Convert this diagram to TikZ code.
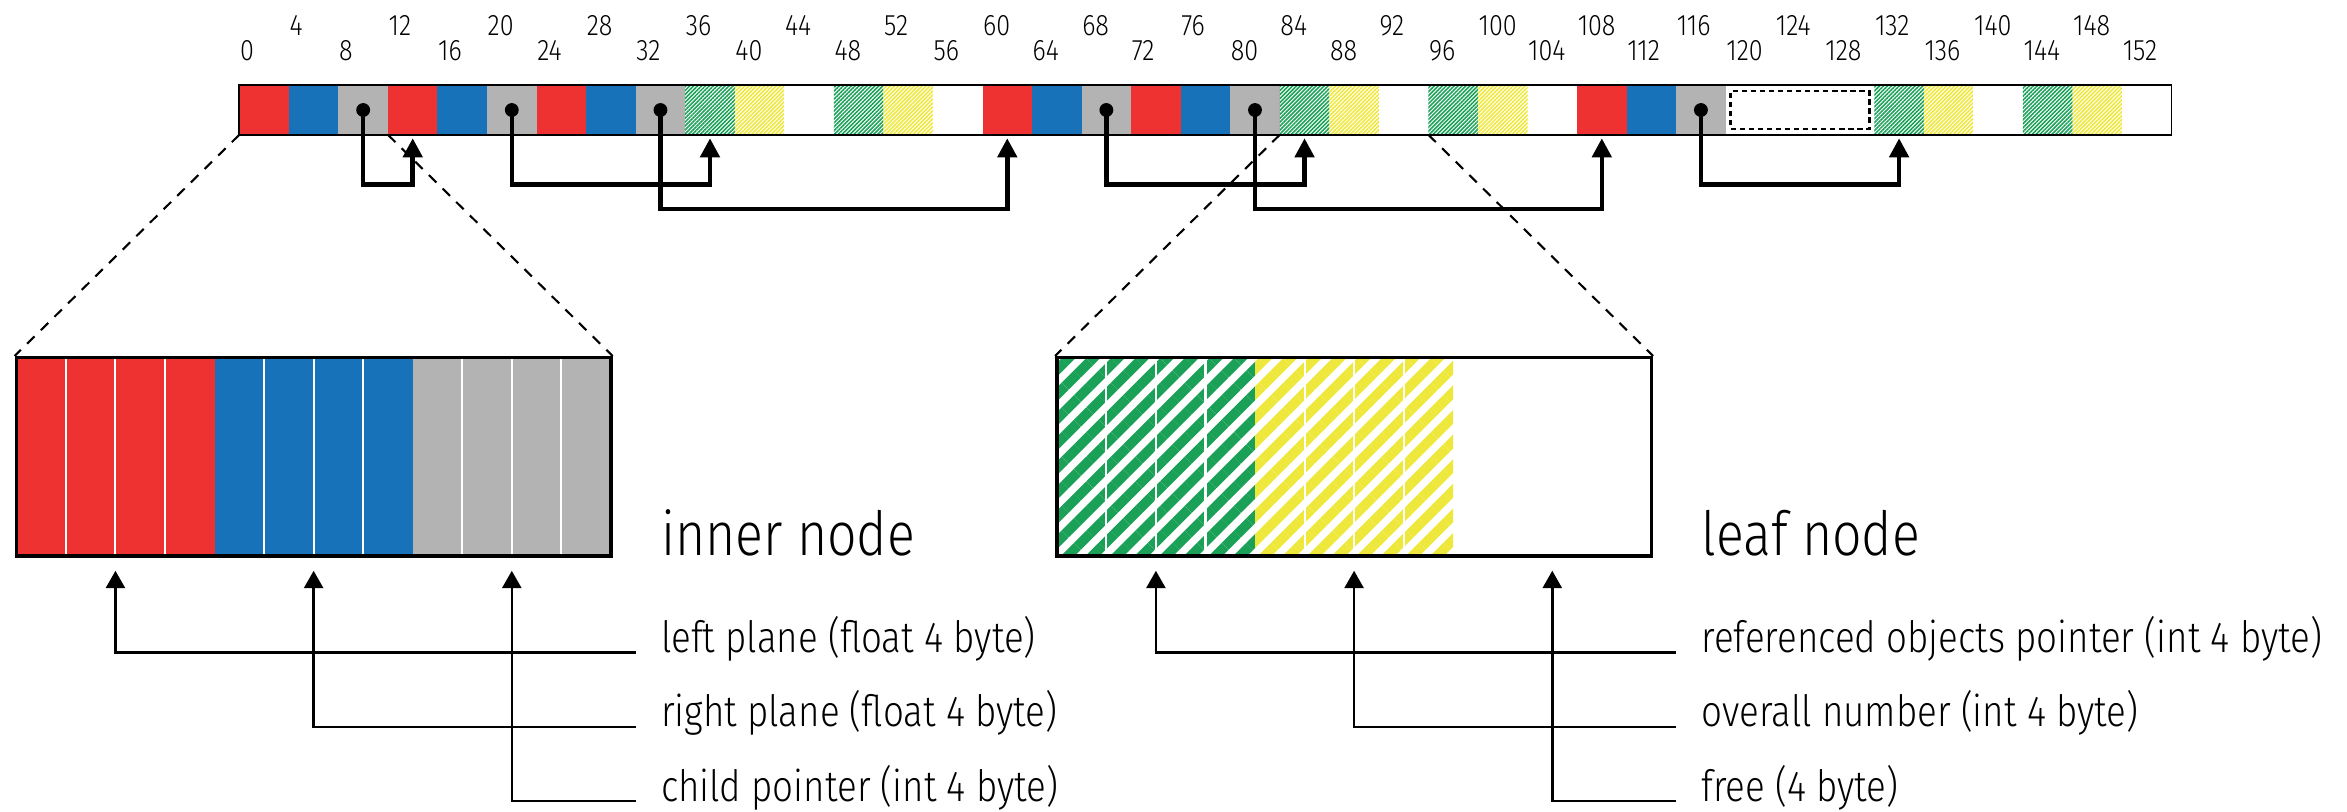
\documentclass[tikz,border=0pt]{standalone}
\usepackage{fontspec}
\setmainfont{Fira Sans Light}[FakeStretch=0.85]
\usepackage{tikz}
\usetikzlibrary{arrows.meta,patterns.meta}
\definecolor{hred}{HTML}{EE3131}
\definecolor{hblue}{HTML}{1772B9}
\definecolor{hgrey}{HTML}{B3B3B3}
\definecolor{hgreen}{HTML}{1BA157}
\definecolor{hyellow}{HTML}{EFE83C}
\tikzset{
  cell/.style={minimum width=0.5cm, minimum height=0.5cm, inner sep=0pt, outer sep=0pt},
  mR/.style={fill=hred},
  mB/.style={fill=hblue},
  mK/.style={fill=hgrey},
  mG/.style={pattern={Lines[angle=45,distance=0.8pt,line width=0.45pt]}, pattern color=hgreen},
  mY/.style={pattern={Lines[angle=45,distance=0.8pt,line width=0.45pt]}, pattern color=hyellow},
  mW/.style={fill=white},
  num/.style={anchor=base west, inner sep=0pt, font=\fontsize{8.5}{10}\selectfont},
  lbl/.style={anchor=base west, inner sep=0pt, font=\fontsize{12.4}{14}\selectfont},
  title/.style={anchor=base west, inner sep=0pt, font=\fontsize{17.5}{20}\selectfont},
  hole/.style={draw, line width=0.7pt, dash pattern=on 1.5pt off 1.1pt, minimum width=1.4cm, minimum height=0.38cm, inner sep=0pt},
  box/.style={draw, line width=1pt, minimum width=6cm, minimum height=2cm, inner sep=0pt},
  sep/.style={white, line width=0.6pt},
  zoomline/.style={line width=0.6pt, dash pattern=on 3pt off 2.5pt},
  ptr/.style={line width=1.3pt, -{Triangle[length=5.5pt,width=5.5pt]}, shorten >=1pt},
  lead/.style={line width=0.7pt, -{Triangle[length=5pt,width=5.5pt]}}
}

\begin{document}
\begin{tikzpicture}[x=0.5cm, y=0.5cm]
  \useasboundingbox (-4.83,-13.65) rectangle (42.54,2.72);

  % memory layout, one cell per 4 byte
  \foreach \k [count=\i from 0] in {mR,mB,mK,mR,mB,mK,mR,mB,mK,mG,mY,mW,mG,mY,mW,mR,mB,mK,mR,mB,mK,mG,mY,mW,mG,mY,mW,mR,mB,mK,mW,mW,mW,mG,mY,mW,mG,mY,mW}
    \node[cell, \k] (c\i) at (\i+0.5,0.5) {};
  \draw[line width=0.5pt] (c0.south west) rectangle (c38.north east);
  \node[hole] (gap) at (c31) {};

  \foreach \b in {0,8,...,152}
    \node[num] (lo\b) at (\b/4,1.5) {\b};
  \foreach \b in {4,12,...,148}
    \node[num] (hi\b) at (\b/4,2.0) {\b};

  % child pointers
  \foreach \s/\t/\d in {2/3/1.5, 5/9/1.5, 8/15/2, 17/21/1.5, 20/27/2, 29/33/1.5} {
    \fill (c\s) circle[radius=0.14];
    \draw[ptr] (c\s.center) -- ++(0,-\d) -| (c\t.south);
  }

  % inner node
  \fill[hred] (-4.5,-8.5) rectangle (-0.5,-4.5);
  \fill[hblue] (-0.5,-8.5) rectangle (3.5,-4.5);
  \fill[hgrey] (3.5,-8.5) rectangle (7.5,-4.5);
  \foreach \x in {-3.5,-2.5,-1.5,0.5,1.5,2.5,4.5,5.5,6.5}
    \draw[sep] (\x,-8.5) -- (\x,-4.5);
  \node[box] (inner) at (1.5,-6.5) {};
  \draw[zoomline] (c0.south west) -- (inner.north west);
  \draw[zoomline] (c2.south east) -- (inner.north east);
  \node[title] (innerT) at (8.5,-8.5) {inner node};

  % leaf node
  \fill[pattern={Lines[angle=45,distance=5pt,line width=2.8pt]}, pattern color=hgreen] (16.5,-8.5) rectangle (20.5,-4.5);
  \fill[pattern={Lines[angle=45,distance=5pt,line width=2.8pt]}, pattern color=hyellow] (20.5,-8.5) rectangle (24.5,-4.5);
  \foreach \x in {17.5,18.5,19.5,21.5,22.5,23.5}
    \draw[sep] (\x,-8.5) -- (\x,-4.5);
  \node[box] (leaf) at (22.5,-6.5) {};
  \draw[zoomline] (c21.south west) -- (leaf.north west);
  \draw[zoomline] (c23.south east) -- (leaf.north east);
  \node[title] (leafT) at (29.5,-8.5) {leaf node};

  % field legends
  \coordinate (tL) at (-2.5,-8.8);
  \coordinate (tR) at (1.5,-8.8);
  \coordinate (tC) at (5.5,-8.8);
  \node[lbl] (lplane) at (8.5,-10.45) {left plane (float 4 byte)};
  \node[lbl] (rplane) at (8.5,-11.95) {right plane (float 4 byte)};
  \node[lbl] (child) at (8.5,-13.45) {child pointer (int 4 byte)};
  \draw[lead] ([xshift=-0.25cm]lplane.base west) -| (tL);
  \draw[lead] ([xshift=-0.25cm]rplane.base west) -| (tR);
  \draw[lead] ([xshift=-0.25cm]child.base west) -| (tC);

  \coordinate (tO) at (18.5,-8.8);
  \coordinate (tN) at (22.5,-8.8);
  \coordinate (tF) at (26.5,-8.8);
  \node[lbl] (objs) at (29.5,-10.45) {referenced objects pointer (int 4 byte)};
  \node[lbl] (count) at (29.5,-11.95) {overall number (int 4 byte)};
  \node[lbl] (free) at (29.5,-13.45) {free (4 byte)};
  \draw[lead] ([xshift=-0.25cm]objs.base west) -| (tO);
  \draw[lead] ([xshift=-0.25cm]count.base west) -| (tN);
  \draw[lead] ([xshift=-0.25cm]free.base west) -| (tF);
\end{tikzpicture}
\end{document}
